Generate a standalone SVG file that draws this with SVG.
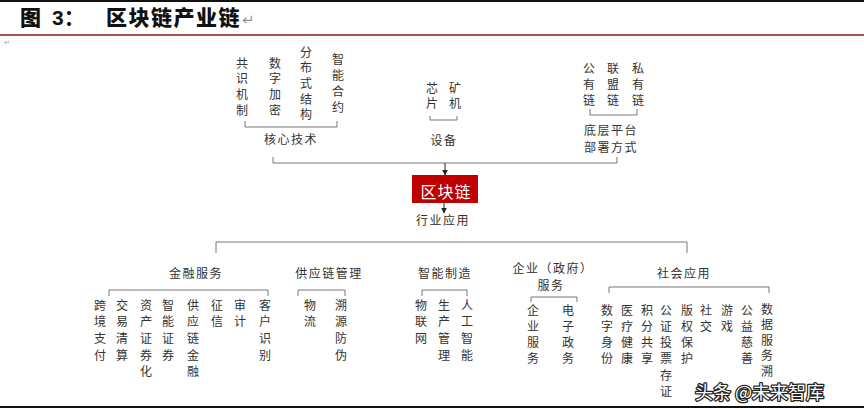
<svg xmlns="http://www.w3.org/2000/svg" width="864" height="410" viewBox="0 0 864 410">
<defs>
<style>
.t{font-family:"Noto Sans CJK SC","Noto Sans",sans-serif;font-size:12px;fill:#333;}
.c{text-anchor:middle;}
.lab{letter-spacing:1.5px;}
.ln{fill:none;stroke:#777;stroke-width:1;}
.ar{fill:none;stroke:#222;stroke-width:1;}
</style>
<marker id="ah" viewBox="0 0 10 10" refX="9" refY="5" markerWidth="6" markerHeight="6" orient="auto"><path d="M0,0 L10,5 L0,10 z" fill="#222"/></marker>
</defs>
<rect x="0" y="0" width="864" height="410" fill="#fff"/>
<line x1="0" y1="1" x2="864" y2="1" stroke="#111" stroke-width="2"/>
<g id="title">
<text x="20" y="25" font-family="'Noto Sans CJK SC',sans-serif" font-size="21" font-weight="900" fill="#111">图</text>
<text x="52" y="25" font-family="'Liberation Sans','Noto Sans CJK SC',sans-serif" font-size="21" font-weight="bold" fill="#111">3：</text>
<text x="106" y="25" font-family="'Noto Sans CJK SC',sans-serif" font-size="21" font-weight="900" fill="#111" letter-spacing="1.5">区块链产业链</text>
<text x="242" y="25" font-family="'DejaVu Sans',sans-serif" font-size="15" fill="#999">↵</text>
</g>
<line x1="0" y1="35" x2="864" y2="35" stroke="#8B1A1A" stroke-width="1.5"/>
<text x="4" y="45" font-family="'DejaVu Sans',sans-serif" font-size="7" fill="#999">↵</text>

<g id="connectors">
<path class="ln" d="M245,121 V127 H337 V121"/>
<path class="ln" d="M430,116 V120 H457 V116"/>
<path class="ln" d="M590,109 V115 H637 V109"/>
<path class="ln" d="M273,157 V163 H617 V157"/>
<line class="ar" x1="445" y1="163" x2="445" y2="175" marker-end="url(#ah)"/>
<line class="ar" x1="444" y1="203" x2="444" y2="213" marker-end="url(#ah)"/>
<path class="ln" d="M216,253 V242 H687 V253"/>
<path class="ln" d="M109,296 V290 H268 V296"/>
<path class="ln" d="M298,296 V290 H345 V296"/>
<path class="ln" d="M422,296 V290 H467 V296"/>
<path class="ln" d="M531,302 V297 H577 V302"/>
<path class="ln" d="M609,293 V287 H769 V293"/>
</g>

<g id="core-tech">
<text class="t c"><tspan x="242" y="67.5">共</tspan><tspan x="242" dy="15.7">识</tspan><tspan x="242" dy="15.7">机</tspan><tspan x="242" dy="15.7">制</tspan></text>
<text class="t c"><tspan x="275" y="67.5">数</tspan><tspan x="275" dy="15.7">字</tspan><tspan x="275" dy="15.7">加</tspan><tspan x="275" dy="15.7">密</tspan></text>
<text class="t c"><tspan x="306" y="56.5">分</tspan><tspan x="306" dy="15.7">布</tspan><tspan x="306" dy="15.7">式</tspan><tspan x="306" dy="15.7">结</tspan><tspan x="306" dy="15.7">构</tspan></text>
<text class="t c"><tspan x="338" y="64">智</tspan><tspan x="338" dy="16">能</tspan><tspan x="338" dy="16">合</tspan><tspan x="338" dy="16">约</tspan></text>
<text class="t c lab" x="291" y="143.5">核心技术</text>
</g>

<g id="device">
<text class="t c"><tspan x="432" y="92.5">芯</tspan><tspan x="432" dy="15.5">片</tspan></text>
<text class="t c"><tspan x="455" y="92.5">矿</tspan><tspan x="455" dy="15.5">机</tspan></text>
<text class="t c lab" x="444" y="144.5">设备</text>
</g>

<g id="deployment">
<text class="t c"><tspan x="589" y="72.5">公</tspan><tspan x="589" dy="16">有</tspan><tspan x="589" dy="16">链</tspan></text>
<text class="t c"><tspan x="613" y="72.5">联</tspan><tspan x="613" dy="16">盟</tspan><tspan x="613" dy="16">链</tspan></text>
<text class="t c"><tspan x="638" y="72.5">私</tspan><tspan x="638" dy="16">有</tspan><tspan x="638" dy="16">链</tspan></text>
<text class="t c lab" x="611" y="134.5">底层平台</text>
<text class="t c lab" x="611" y="151.5">部署方式</text>
</g>

<g id="blockchain">
<rect x="412" y="175" width="66" height="28" fill="#C00000"/>
<text x="446" y="197.5" text-anchor="middle" font-family="'Noto Sans CJK SC',sans-serif" font-size="16" fill="#fff" letter-spacing="1">区块链</text>
</g>

<g id="industry">
<text class="t c lab" x="443" y="224.5">行业应用</text>
</g>

<g id="finance">
<text class="t c lab" x="196" y="277.5">金融服务</text>
<text class="t c"><tspan x="100" y="309.5">跨</tspan><tspan x="100" dy="16.7">境</tspan><tspan x="100" dy="16.7">支</tspan><tspan x="100" dy="16.7">付</tspan></text>
<text class="t c"><tspan x="122" y="309.5">交</tspan><tspan x="122" dy="16.7">易</tspan><tspan x="122" dy="16.7">清</tspan><tspan x="122" dy="16.7">算</tspan></text>
<text class="t c"><tspan x="146" y="309.5">资</tspan><tspan x="146" dy="16.7">产</tspan><tspan x="146" dy="16.7">证</tspan><tspan x="146" dy="16.7">券</tspan><tspan x="146" dy="16.7">化</tspan></text>
<text class="t c"><tspan x="168" y="309.5">智</tspan><tspan x="168" dy="16.7">能</tspan><tspan x="168" dy="16.7">证</tspan><tspan x="168" dy="16.7">券</tspan></text>
<text class="t c"><tspan x="193" y="309.5">供</tspan><tspan x="193" dy="16.7">应</tspan><tspan x="193" dy="16.7">链</tspan><tspan x="193" dy="16.7">金</tspan><tspan x="193" dy="16.7">融</tspan></text>
<text class="t c"><tspan x="217" y="309.5">征</tspan><tspan x="217" dy="16.7">信</tspan></text>
<text class="t c"><tspan x="240" y="309.5">审</tspan><tspan x="240" dy="16.7">计</tspan></text>
<text class="t c"><tspan x="265" y="309.5">客</tspan><tspan x="265" dy="16.7">户</tspan><tspan x="265" dy="16.7">识</tspan><tspan x="265" dy="16.7">别</tspan></text>
</g>

<g id="supply-chain">
<text class="t c lab" x="329" y="277.5">供应链管理</text>
<text class="t c"><tspan x="310" y="309.5">物</tspan><tspan x="310" dy="16.7">流</tspan></text>
<text class="t c"><tspan x="341" y="309.5">溯</tspan><tspan x="341" dy="16.7">源</tspan><tspan x="341" dy="16.7">防</tspan><tspan x="341" dy="16.7">伪</tspan></text>
</g>

<g id="manufacturing">
<text class="t c lab" x="445" y="277.5">智能制造</text>
<text class="t c"><tspan x="421" y="309.5">物</tspan><tspan x="421" dy="16.7">联</tspan><tspan x="421" dy="16.7">网</tspan></text>
<text class="t c"><tspan x="444" y="309.5">生</tspan><tspan x="444" dy="16.7">产</tspan><tspan x="444" dy="16.7">管</tspan><tspan x="444" dy="16.7">理</tspan></text>
<text class="t c"><tspan x="467" y="309.5">人</tspan><tspan x="467" dy="16.7">工</tspan><tspan x="467" dy="16.7">智</tspan><tspan x="467" dy="16.7">能</tspan></text>
</g>

<g id="enterprise">
<text class="t c lab" x="553" y="272.5">企业（政府）</text>
<text class="t c lab" x="551" y="289.5">服务</text>
<text class="t c"><tspan x="533" y="314.5">企</tspan><tspan x="533" dy="16">业</tspan><tspan x="533" dy="16">服</tspan><tspan x="533" dy="16">务</tspan></text>
<text class="t c"><tspan x="568" y="314.5">电</tspan><tspan x="568" dy="16">子</tspan><tspan x="568" dy="16">政</tspan><tspan x="568" dy="16">务</tspan></text>
</g>

<g id="social">
<text class="t c lab" x="684" y="277.5">社会应用</text>
<text class="t c"><tspan x="607" y="314.5">数</tspan><tspan x="607" dy="16.3">字</tspan><tspan x="607" dy="16.3">身</tspan><tspan x="607" dy="16.3">份</tspan></text>
<text class="t c"><tspan x="627" y="314.5">医</tspan><tspan x="627" dy="16.3">疗</tspan><tspan x="627" dy="16.3">健</tspan><tspan x="627" dy="16.3">康</tspan></text>
<text class="t c"><tspan x="647" y="314.5">积</tspan><tspan x="647" dy="16.3">分</tspan><tspan x="647" dy="16.3">共</tspan><tspan x="647" dy="16.3">享</tspan></text>
<text class="t c"><tspan x="666" y="314.5">公</tspan><tspan x="666" dy="16.3">证</tspan><tspan x="666" dy="16.3">投</tspan><tspan x="666" dy="16.3">票</tspan><tspan x="666" dy="16.3">存</tspan><tspan x="666" dy="16.3">证</tspan></text>
<text class="t c"><tspan x="687" y="314.5">版</tspan><tspan x="687" dy="16.3">权</tspan><tspan x="687" dy="16.3">保</tspan><tspan x="687" dy="16.3">护</tspan></text>
<text class="t c"><tspan x="706" y="314.5">社</tspan><tspan x="706" dy="16.3">交</tspan></text>
<text class="t c"><tspan x="727" y="314.5">游</tspan><tspan x="727" dy="16.3">戏</tspan></text>
<text class="t c"><tspan x="747" y="314.5">公</tspan><tspan x="747" dy="16.3">益</tspan><tspan x="747" dy="16.3">慈</tspan><tspan x="747" dy="16.3">善</tspan></text>
<text class="t c"><tspan x="767" y="313.5">数</tspan><tspan x="767" dy="15.5">据</tspan><tspan x="767" dy="15.5">服</tspan><tspan x="767" dy="15.5">务</tspan><tspan x="767" dy="15.5">溯</tspan></text>
</g>

<g id="watermark">
<text x="695" y="399" font-family="'Noto Sans CJK SC',sans-serif" font-size="18" fill="#fff" stroke="#222" stroke-width="2.5" paint-order="stroke fill" stroke-linejoin="round">头条 @未来智库</text>
</g>
<line x1="0" y1="407" x2="864" y2="407" stroke="#111" stroke-width="2"/>
</svg>
